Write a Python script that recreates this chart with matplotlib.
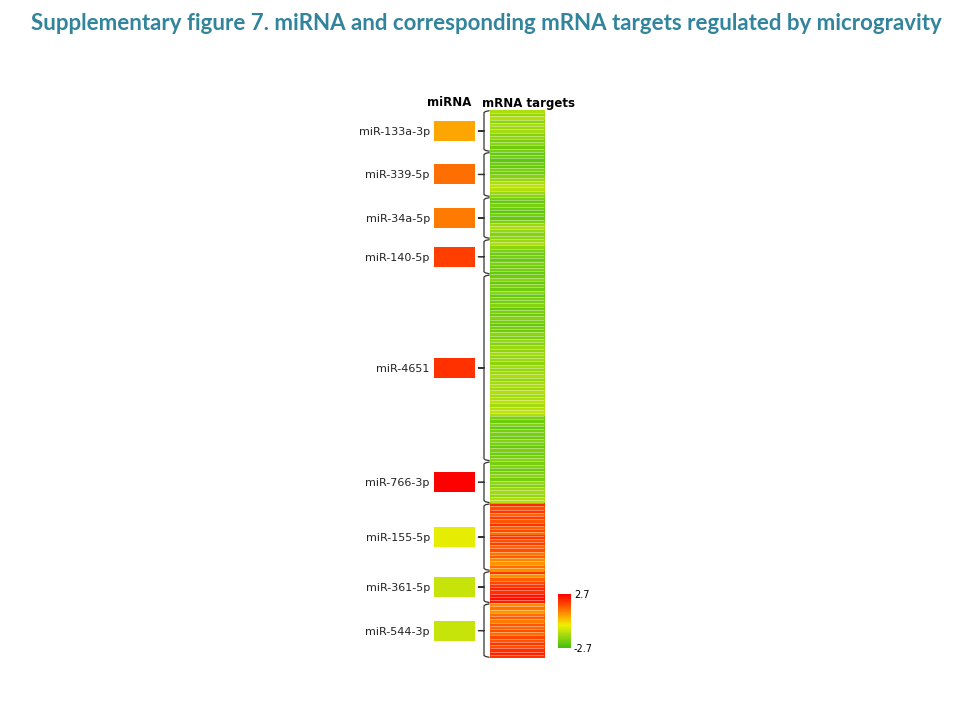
import matplotlib as mpl
mpl.use("Agg")
import matplotlib.pyplot as plt
import numpy as np
from matplotlib.colors import LinearSegmentedColormap, Normalize
from matplotlib.cm import ScalarMappable

# ---------------------------------------------------------------------------
# data (log fold change)
# ---------------------------------------------------------------------------
mirnas = ["miR-133a-3p", "miR-339-5p", "miR-34a-5p", "miR-140-5p", "miR-4651",
          "miR-766-3p", "miR-155-5p", "miR-361-5p", "miR-544-3p"]
mirna_fc = [0.5, 1.2, 1.05, 1.8, 2.0, 2.7, -0.55, -0.95, -0.95]

targets_133a = [-1.3, -1.6, -1.2, -1.7, -1.3, -1.5, -1.4, -1.8, -1.6, -2.0, -1.7, -2.1, -1.9]
targets_339 = [-2.2, -2.0, -2.3, -2.1, -2.2, -1.9, -2.1, -1.8, -1.6, -1.3, -1.1, -1.2, -1.5, -1.7]
targets_34a = [-2.0, -2.2, -1.9, -2.1, -2.3, -2.0, -2.2, -1.9, -1.5, -1.3, -1.6, -1.8, -1.7]
targets_140 = [-1.5, -1.3, -1.7, -1.9, -2.1, -2.0, -2.2, -1.9, -2.1, -2.0, -2.2]
targets_4651 = [-2.1, -1.8, -2.2, -1.9, -2.1, -1.7, -2.2, -1.9, -2.0, -1.8, -2.2, -1.9,
                -2.1, -1.8, -2.0, -2.2, -1.9, -2.1,
                -1.7, -1.9, -1.6, -1.8, -1.5, -1.7, -1.4, -1.6, -1.5, -1.7, -1.4, -1.6,
                -1.5, -1.3, -1.6, -1.4,
                -1.3, -1.5, -1.2, -1.4, -1.3, -1.1, -1.4, -1.2, -1.0, -1.3,
                -1.9, -2.1, -1.8, -2.2, -2.0, -1.9, -2.1, -1.8, -2.0, -2.2, -1.9, -2.1,
                -2.0, -1.8]
targets_766 = [-2.0, -1.8, -2.1, -1.9, -1.7, -2.0, -1.6, -1.8, -1.5, -1.4, -1.6, -1.3, -1.2]
targets_155 = [2.1, 1.6, 1.9, 1.3, 1.8, 1.5, 2.0, 1.4, 1.7, 1.2, 1.9, 1.5, 1.8, 1.3,
               1.6, 1.1, 1.4, 0.9, 0.7, 1.2, 0.8]
targets_361 = [1.9, 0.8, 1.4, 1.7, 1.9, 2.2, 2.0, 2.4, 2.5, 2.3]
targets_544 = [0.8, 1.1, 0.7, 1.2, 1.4, 1.0, 1.5, 1.3, 1.6, 1.2, 1.7, 1.5, 1.9, 1.6,
               2.0, 2.2, 1.9]

target_groups = [targets_133a, targets_339, targets_34a, targets_140, targets_4651,
                 targets_766, targets_155, targets_361, targets_544]

VMAX = 2.7
TITLE = "Supplementary figure 7. miRNA and corresponding mRNA targets regulated by microgravity"

# ---------------------------------------------------------------------------
# green -> yellow -> red scale, close to the original key
cmap = LinearSegmentedColormap.from_list(
    "gyr", [(0.0, "#40bf10"), (0.25, "#a8dc10"), (0.42, "#f0f000"),
            (0.62, "#ff9900"), (0.82, "#ff4400"), (1.0, "#ff0000")])
norm = Normalize(-VMAX, VMAX)

W, H = 960, 720


def box(x0, y0, x1, y1):
    """pixel box (top-left origin) -> figure fraction rect"""
    return [x0 / W, 1 - y1 / H, (x1 - x0) / W, (y1 - y0) / H]


values = np.concatenate([np.array(g, dtype=float) for g in target_groups])
n = len(values)
sizes = [len(g) for g in target_groups]
starts = np.concatenate([[0], np.cumsum(sizes)[:-1]])
ends = np.cumsum(sizes)
mids = (starts + ends) / 2

fig = plt.figure(figsize=(9.6, 7.2), dpi=100)
fig.text(0.507, 1 - 24 / H, TITLE, ha="center", va="center",
         fontsize=16, fontweight="bold", color="#31849b",
         family=["Lato", "DejaVu Sans"])

top, bot = 110, 658

# heatmap of targets
axH = fig.add_axes(box(490, top, 544, bot))
axH.imshow(values[:, None], cmap=cmap, norm=norm, aspect="auto",
           interpolation="nearest", extent=(0, 1, n, 0))
axH.hlines(np.arange(1, n), 0, 1, color="white", linewidth=0.45, alpha=0.6)
axH.set_ylim(n, 0)
axH.set_xlim(0, 1)
axH.axis("off")

# miRNA boxes
axM = fig.add_axes(box(434, top, 475, bot))
axM.barh(mids, 1, height=6.2, left=0, color=[cmap(norm(v)) for v in mirna_fc])
axM.set_ylim(n, 0)
axM.set_xlim(0, 1)
axM.set_yticks(mids)
axM.set_yticklabels(mirnas, fontsize=8, color="#222222")
axM.tick_params(axis="y", length=0, pad=3)
axM.set_xticks([])
for s in axM.spines.values():
    s.set_visible(False)
axM.patch.set_alpha(0)

# curly brackets linking each miRNA to its targets
axB = fig.add_axes(box(476, top, 492, bot))
for s0, e0, m in zip(starts, ends, mids):
    ys = [s0 + 0.2, s0 + 0.45, s0 + 0.8, m - 0.3, m, m, m, m + 0.3, e0 - 0.8, e0 - 0.45, e0 - 0.2]
    xs = [0.85, 0.6, 0.5, 0.5, 0.5, 0.15, 0.5, 0.5, 0.5, 0.6, 0.85]
    axB.plot(xs, ys, color="#333333", linewidth=0.9, solid_capstyle="butt")
axB.set_ylim(n, 0)
axB.set_xlim(0, 1)
axB.axis("off")

# column headers
fig.text(449 / W, 1 - 103 / H, "miRNA", ha="center", va="center",
         fontsize=8.5, fontweight="bold")
fig.text(529 / W, 1 - 103 / H, "mRNA targets", ha="center", va="center",
         fontsize=8.5, fontweight="bold")

# colour key
cax = fig.add_axes(box(558, 594, 571, 648))
cb = fig.colorbar(ScalarMappable(norm=norm, cmap=cmap), cax=cax, ticks=[-VMAX, VMAX])
cb.ax.set_yticklabels([f"-{VMAX}", f"{VMAX}"])
cb.ax.tick_params(labelsize=7, length=0, pad=2)
cb.outline.set_visible(False)

fig.savefig("out.png", dpi=100)
